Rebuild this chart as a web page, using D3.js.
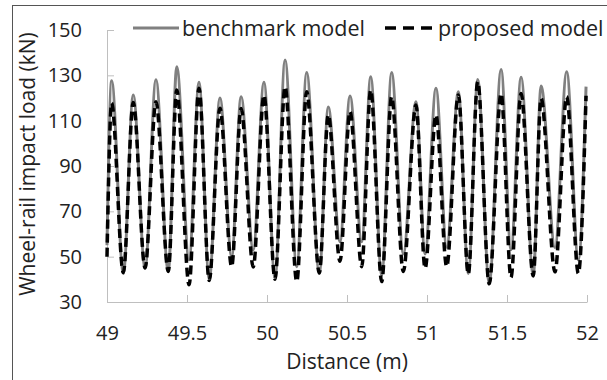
<!DOCTYPE html>
<html>
<head>
<meta charset="utf-8">
<script src="https://cdn.jsdelivr.net/npm/d3@7"></script>
<style>
  body { margin: 0; background: #fff; }
  svg { display: block; font-family: 'Open Sans', sans-serif; }
</style>
</head>
<body>
<div id="chart"></div>
<script>
// extrema (distance in m, load in kN)
const distance = [49.000, 49.029, 49.102, 49.164, 49.238, 49.306, 49.383, 49.436, 49.513, 49.575,
  49.639, 49.706, 49.779, 49.838, 49.914, 49.981, 50.050, 50.113, 50.186, 50.248,
  50.327, 50.383, 50.456, 50.519, 50.592, 50.648, 50.717, 50.779, 50.852, 50.931,
  50.988, 51.056, 51.123, 51.196, 51.258, 51.317, 51.389, 51.463, 51.525, 51.588,
  51.664, 51.713, 51.800, 51.873, 51.946, 51.994];
const benchmark = [55, 127.6, 42.6, 121.3, 45, 128, 43.5, 133.8, 48.6, 127,
  40, 120, 50, 120.6, 53, 127, 40.5, 136.8, 45.6, 131.2,
  42.8, 116, 56.6, 120.9, 56.6, 129.4, 41.7, 131.2, 51.2, 118.4,
  51.2, 124.3, 54.2, 122.8, 42.6, 128.2, 38.2, 132.6, 53, 129.1,
  41.8, 125.3, 54, 131.6, 48.5, 125];
const proposed = [50, 117.8, 43, 118, 45, 118.4, 43.5, 123.5, 37.6, 124.3,
  39.5, 115.5, 45.6, 115.4, 45.4, 121.3, 40, 125, 39, 122.8,
  42.8, 112.5, 48, 114, 45.6, 123.5, 39, 120.6, 43.5, 116.9,
  44.8, 112.5, 45.6, 121.3, 42.3, 127.2, 38, 122, 40.8, 122,
  41.5, 119.9, 43.3, 120.6, 42.6, 121];
const xTicks = [49, 49.5, 50, 50.5, 51, 51.5, 52];
const yTicks = [30, 50, 70, 90, 110, 130, 150];

const width = 607;
const height = 380;
const plotLeft = 107, plotRight = 587, plotTop = 30, plotBottom = 302;

const svg = d3.select('#chart')
  .append('svg')
  .attr('width', width)
  .attr('height', height);

// outer frame (only top and left edges fall inside the picture)
svg.append('rect')
  .attr('x', 12.5)
  .attr('y', 5.5)
  .attr('width', 700)
  .attr('height', 500)
  .attr('fill', 'none')
  .attr('stroke', '#555');

const x = d3.scaleLinear().domain([49, 52]).range([plotLeft, plotRight]);
const y = d3.scaleLinear().domain([30, 150]).range([plotBottom, plotTop]);

// x axis
const xAxis = svg.append('g')
  .attr('transform', 'translate(0,' + plotBottom + ')')
  .call(d3.axisBottom(x).tickValues(xTicks).tickFormat(d3.format('')).tickSizeInner(-7).tickSizeOuter(0).tickPadding(31));
xAxis.select('.domain').attr('stroke', '#bfbfbf');
xAxis.selectAll('.tick line').attr('stroke', '#bfbfbf');
xAxis.selectAll('text')
  .attr('dy', '0.35em')
  .attr('fill', '#222')
  .style('font-size', '20px')
  .style('font-family', "'Open Sans', sans-serif");

// y axis
const yAxis = svg.append('g')
  .attr('transform', 'translate(' + plotLeft + ',0)')
  .call(d3.axisLeft(y).tickValues(yTicks).tickSizeInner(-7).tickSizeOuter(0).tickPadding(25));
yAxis.select('.domain').attr('stroke', '#bfbfbf');
yAxis.selectAll('.tick line').attr('stroke', '#bfbfbf');
yAxis.selectAll('text')
  .attr('fill', '#222')
  .style('font-size', '20px')
  .style('font-family', "'Open Sans', sans-serif");

// axis titles
svg.append('text')
  .attr('x', (plotLeft + plotRight) / 2)
  .attr('y', 362)
  .attr('dy', '0.35em')
  .attr('text-anchor', 'middle')
  .attr('fill', '#222')
  .style('font-size', '21px')
  .text('Distance (m)');

svg.append('text')
  .attr('transform', 'translate(28,164) rotate(-90)')
  .attr('dy', '0.35em')
  .attr('text-anchor', 'middle')
  .attr('fill', '#222')
  .style('font-size', '21px')
  .text('Wheel-rail impact load (kN)');

// series
const line = series => d3.line()
  .x((d, i) => x(distance[i]))
  .y(d => y(d))
  .curve(d3.curveMonotoneX)(series);

svg.append('path')
  .attr('d', line(benchmark))
  .attr('fill', 'none')
  .attr('stroke', '#808080')
  .attr('stroke-width', 3);

svg.append('path')
  .attr('d', line(proposed))
  .attr('fill', 'none')
  .attr('stroke', '#000')
  .attr('stroke-width', 3.5)
  .attr('stroke-dasharray', '9,5');

// legend
const legend = svg.append('g');
legend.append('line')
  .attr('x1', 133).attr('x2', 179)
  .attr('y1', 28).attr('y2', 28)
  .attr('stroke', '#808080')
  .attr('stroke-width', 3);
legend.append('text')
  .attr('x', 182).attr('y', 28)
  .attr('dy', '0.35em')
  .attr('fill', '#222')
  .style('font-size', '21.5px')
  .text('benchmark model');
legend.append('line')
  .attr('x1', 385).attr('x2', 433)
  .attr('y1', 28).attr('y2', 28)
  .attr('stroke', '#000')
  .attr('stroke-width', 3.5)
  .attr('stroke-dasharray', '11,7');
legend.append('text')
  .attr('x', 438).attr('y', 28)
  .attr('dy', '0.35em')
  .attr('fill', '#222')
  .style('font-size', '21.5px')
  .text('proposed model');
</script>
</body>
</html>
